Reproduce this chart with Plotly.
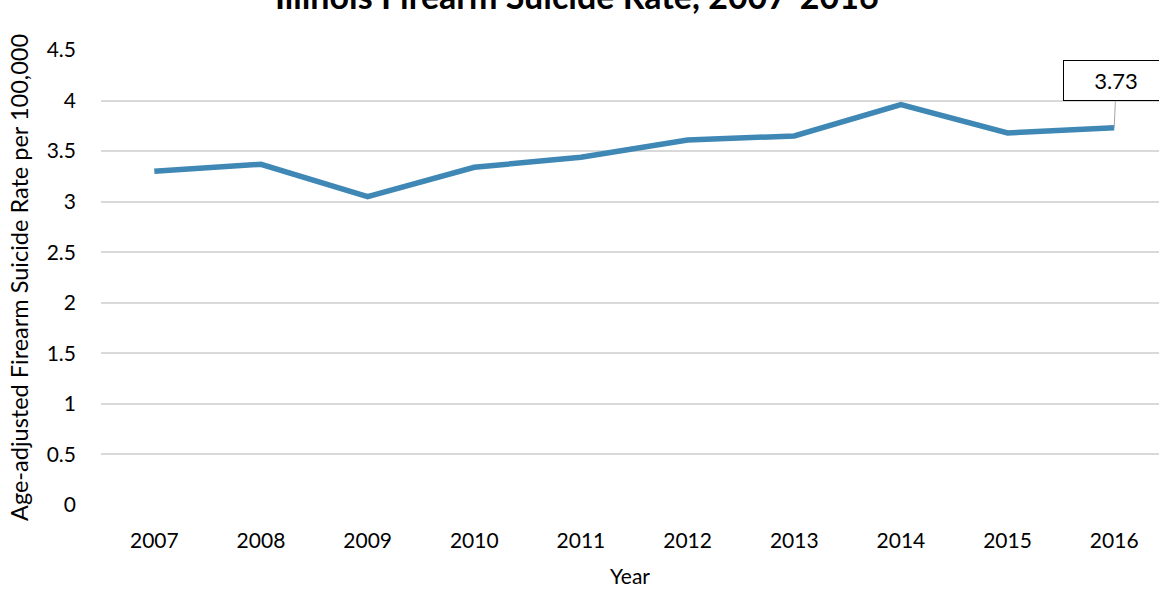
import plotly.graph_objects as go

years = ["2007", "2008", "2009", "2010", "2011", "2012", "2013", "2014", "2015", "2016"]
rates = [3.30, 3.37, 3.05, 3.34, 3.44, 3.61, 3.65, 3.96, 3.68, 3.73]
y_ticks = [0, 0.5, 1, 1.5, 2, 2.5, 3, 3.5, 4, 4.5]
y_tick_labels = ["0", "0.5", "1", "1.5", "2", "2.5", "3", "3.5", "4", "4.5"]

FONT = "Lato"

fig = go.Figure()
fig.add_trace(go.Scatter(
    x=list(range(len(years))), y=rates, mode="lines",
    line=dict(color="#3F88B5", width=5.5), hoverinfo="skip", showlegend=False,
))

fig.add_annotation(
    x=9, y=rates[-1], xref="x", yref="y",
    text=f"{rates[-1]:.2f}", showarrow=True, arrowhead=0, arrowwidth=1,
    arrowcolor="#a6a6a6", ax=2, ay=-47, bordercolor="#000000", borderwidth=1,
    borderpad=6, bgcolor="#ffffff", font=dict(family=FONT, size=22, color="#000"),
    width=92,
)

fig.add_annotation(
    text="<b>Illinois Firearm Suicide Rate, 2007-2016</b>",
    xref="paper", yref="paper", x=0.45, y=1.0, yshift=55,
    xanchor="center", yanchor="middle", showarrow=False,
    font=dict(family=FONT, size=34, color="#000"),
)

fig.update_layout(
    width=1159, height=589,
    margin=dict(l=101, r=0, t=50, b=84),
    plot_bgcolor="#ffffff", paper_bgcolor="#ffffff",
    font=dict(family=FONT, size=21, color="#000"),
    xaxis=dict(
        range=[-0.5, 9.42], tickmode="array", tickvals=list(range(len(years))),
        ticktext=years, showgrid=False, zeroline=False, showline=False,
        ticks="", ticklen=0, tickfont=dict(size=21), ticklabelstandoff=21,
        title=dict(text="Year", font=dict(size=21), standoff=18),
    ),
    yaxis=dict(
        range=[0, 4.5], tickmode="array", tickvals=y_ticks, ticktext=y_tick_labels,
        showgrid=True, gridcolor="#d9d9d9", gridwidth=1.5, zeroline=False,
        showline=False, ticks="", tickfont=dict(size=21), ticklabelstandoff=24,
        title=dict(text="Age-adjusted Firearm Suicide Rate per 100,000", font=dict(size=23.5), standoff=11),
    ),
)

fig.write_html("out.html", config={"displayModeBar": False},
               post_script="document.body.style.margin='0px';document.body.style.padding='0px';")
